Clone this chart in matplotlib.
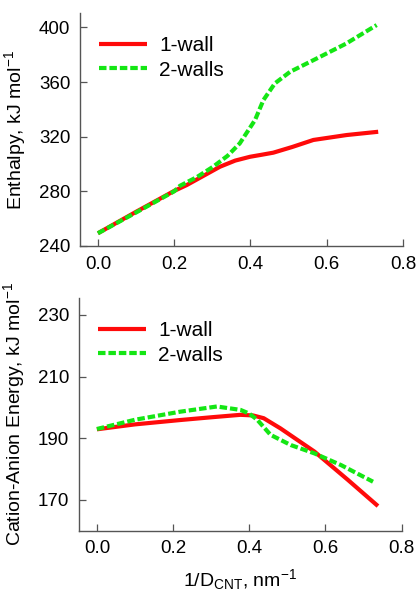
import matplotlib
matplotlib.use("Agg")
import matplotlib.pyplot as plt

plt.rcParams['font.family'] = ['Liberation Sans', 'DejaVu Sans']
plt.rcParams['mathtext.fontset'] = 'custom'
plt.rcParams['mathtext.rm'] = 'Liberation Sans'
plt.rcParams['mathtext.it'] = 'Liberation Sans'

# Top panel: enthalpy
x_top_1 = [0.0, 0.1, 0.2, 0.233, 0.32, 0.36, 0.399, 0.43, 0.46, 0.51, 0.565, 0.652, 0.735]
enth_1wall = [249.3, 265.0, 280.3, 284.6, 298.0, 302.5, 305.3, 306.8, 308.3, 312.5, 317.6, 321.2, 323.6]
x_top_2 = [0.0, 0.1, 0.2, 0.215, 0.26, 0.302, 0.34, 0.372, 0.412, 0.434, 0.464, 0.504, 0.565, 0.65, 0.731]
enth_2walls = [249.3, 264.5, 280.0, 284.0, 290.5, 298.0, 306.0, 315.1, 332.2, 346.8, 359.0, 367.5, 376.0, 388.0, 401.7]

# Bottom panel: cation-anion energy
x_bot_1 = [0.0, 0.1, 0.218, 0.3, 0.377, 0.41, 0.438, 0.482, 0.571, 0.659, 0.738]
ca_1wall = [192.9, 194.5, 195.9, 196.8, 197.6, 197.4, 196.5, 193.2, 185.7, 176.5, 168.0]
x_bot_2 = [0.0, 0.1, 0.218, 0.315, 0.377, 0.40, 0.421, 0.456, 0.509, 0.571, 0.641, 0.725]
ca_2walls = [193.0, 196.0, 198.6, 200.3, 199.2, 198.0, 196.0, 191.1, 187.8, 185.1, 181.3, 175.9]

labels = ['1-wall', '2-walls']
red = '#ff0a0a'
green = '#14e614'

fig = plt.figure(figsize=(4.17, 5.93), dpi=100)
ax1 = fig.add_axes([0.1918, 0.5852, 0.9664 - 0.1918, 0.978 - 0.5852])
ax2 = fig.add_axes([0.1894, 0.105, 0.963 - 0.1894, 0.4975 - 0.105])

def style(ax):
    for s in ['top', 'right']:
        ax.spines[s].set_visible(False)
    for s in ['left', 'bottom']:
        ax.spines[s].set_color('#555555')
        ax.spines[s].set_linewidth(1.0)
    ax.tick_params(direction='in', length=5, width=0.9, color='#555555',
                   labelsize=13.5, pad=7)
    ax.set_xlim(-0.047, 0.8)
    ax.set_xticks([0.0, 0.2, 0.4, 0.6, 0.8])
    ax.set_xticklabels(['0.0', '0.2', '0.4', '0.6', '0.8'])

ax1.plot(x_top_1, enth_1wall, color=red, lw=3, label=labels[0], solid_capstyle='butt')
ax1.plot(x_top_2, enth_2walls, color=green, lw=3, dashes=(1.8, 0.7), label=labels[1])
style(ax1)
ax1.set_ylim(240, 410.5)
ax1.set_yticks([240, 280, 320, 360, 400])
ax1.set_ylabel('Enthalpy, kJ mol$^{-1}$', fontsize=14, labelpad=8)
ax1.legend(loc='upper left', frameon=False, fontsize=15, handlelength=2.3,
           handletextpad=0.6, bbox_to_anchor=(0.0, 0.98), labelspacing=0.25)

ax2.plot(x_bot_1, ca_1wall, color=red, lw=3, label=labels[0], solid_capstyle='butt')
ax2.plot(x_bot_2, ca_2walls, color=green, lw=3, dashes=(1.8, 0.7), label=labels[1])
style(ax2)
ax2.set_ylim(160, 235.5)
ax2.set_yticks([170, 190, 210, 230])
ax2.set_ylabel('Cation-Anion Energy, kJ mol$^{-1}$', fontsize=14, labelpad=8)
ax2.set_xlabel('1/D$_{\\mathrm{CNT}}$, nm$^{-1}$', fontsize=14, labelpad=7)
ax2.legend(loc='upper left', frameon=False, fontsize=15, handlelength=2.3,
           handletextpad=0.6, bbox_to_anchor=(0.0, 0.98), labelspacing=0.25)

fig.savefig('out.png', dpi=100)
